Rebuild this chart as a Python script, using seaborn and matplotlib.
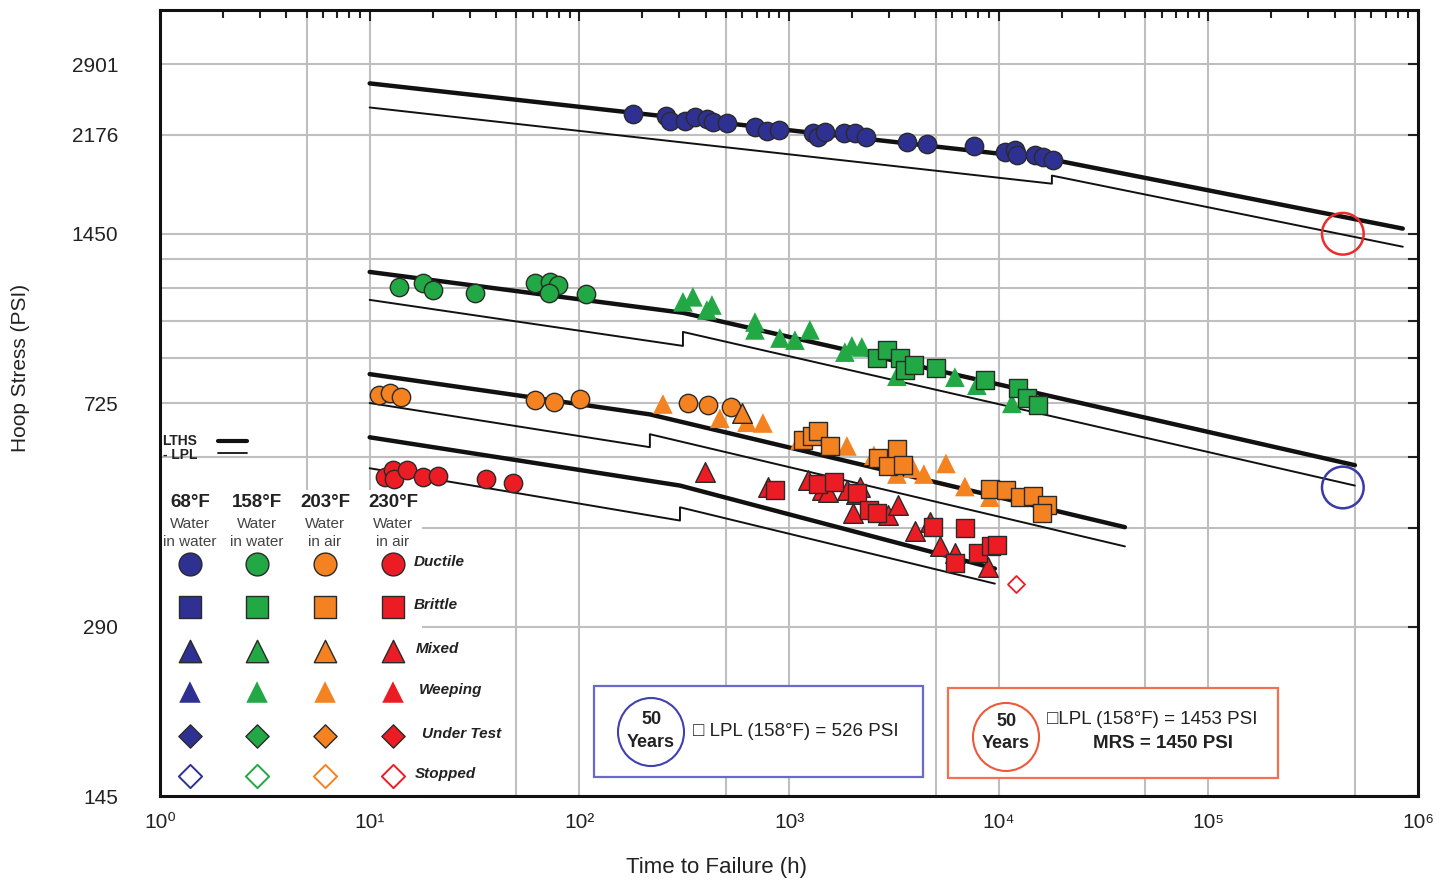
import numpy as np
import pandas as pd
import matplotlib
matplotlib.use("Agg")
import matplotlib.pyplot as plt
import seaborn as sns
from matplotlib.patches import Rectangle, Ellipse
from matplotlib.ticker import FixedLocator, FixedFormatter, LogLocator, NullFormatter

sns.set_theme(style="white")
plt.rcParams['font.family'] = ['Liberation Sans', 'DejaVu Sans']

# ---------------- data (hours, psi) ----------------
# 68F water in water - ductile
b_circ_h = [180, 259, 270, 319, 356, 406, 434, 506, 688, 785, 895, 1300, 1373, 1484, 1827, 2062, 2326,
            3650, 4546, 7616, 10700, 11950, 12210, 14880, 16250, 18140]
b_circ_p = [2363, 2345, 2297, 2297, 2335, 2316, 2287, 2278, 2249, 2213, 2222, 2195, 2151, 2204, 2187, 2195, 2151,
            2115, 2098, 2081, 2030, 2046, 2005, 2005, 1989, 1965]
# 158F
g_circ_h = [13.8, 18.0, 20.0, 31.8, 61.4, 72.4, 79.1, 71.6, 107.5]
g_circ_p = [1167, 1186, 1152, 1138, 1186, 1191, 1176, 1138, 1133]
g_weep_h = [312, 348, 406, 429, 688, 688, 905, 1067, 1258, 1847, 1995, 2226, 3269, 6183, 7870, 11560]
g_weep_p = [1097, 1120, 1061, 1083, 1010, 978, 946, 938, 978, 893, 916, 912, 809, 806, 780, 724]
g_sq_h = [2626, 2931, 3380, 3570, 3940, 5018, 8596, 12350, 13630, 15380]
g_sq_p = [872, 901, 872, 830, 847, 837, 796, 771, 740, 719]
# 203F
o_circ_h = [11.1, 12.5, 14.1, 61.4, 75.6, 100.7, 329.6, 410, 528]
o_circ_p = [749, 755, 743, 734, 728, 737, 724, 719, 713]
o_weep_h = [250.5, 468, 630, 751, 1127, 1889, 2540, 3269, 3898, 4398, 5601, 6899, 9079]
o_weep_p = [722, 681, 670, 668, 623, 608, 585, 542, 555, 542, 566, 515, 493]
o_mix_h = [596]
o_mix_p = [696]
o_sq_h = [1165, 1286, 1373, 1567, 2654, 3269, 2962, 3493, 9079, 10820, 12620, 14560, 16980, 16070]
o_sq_p = [623, 633, 646, 608, 578, 600, 560, 562, 509, 507, 493, 495, 477, 463]
# 230F
r_circ_h = [11.8, 12.9, 13.1, 15.1, 17.96, 21.2, 35.9, 48.2]
r_circ_p = [535, 550, 531, 550, 535, 537, 531, 522]
r_mix_h = [397, 793, 1231, 1435, 1533, 1889, 2084, 2178, 2017, 2962, 3305, 3985, 4698, 5243, 6183, 8881]
r_mix_p = [546, 515, 528, 507, 503, 507, 499, 515, 463, 459, 477, 430, 446, 403, 393, 371]
r_sq_h = [856, 1373, 1637, 2108, 2404, 2626, 4856, 6899, 6183, 7958, 9180, 9803]
r_sq_p = [507, 520, 524, 501, 467, 463, 437, 434, 377, 392, 403, 406]
r_stop_h = [12080]
r_stop_p = [346]

# regression lines: LTHS (thick) and LPL (thin)
lths_68_h = [10, 17940, 846000];         lths_68_p = [2684, 1965, 1481]
lpl_68_h = [10, 17940, 17940, 846000];   lpl_68_p = [2432, 1780, 1840, 1375]
lths_158_h = [10, 312, 500000];          lths_158_p = [1240, 1049, 562]
lpl_158_h = [10, 312, 312, 500000];      lpl_158_p = [1106, 916, 970, 517]
lths_203_h = [10, 217, 40000];           lths_203_p = [816, 692, 436]
lpl_203_h = [10, 217, 217, 40000];       lpl_203_p = [725, 605, 638, 403]
lths_230_h = [10, 302, 9590];            lths_230_p = [630, 517, 368]
lpl_230_h = [10, 302, 302, 9590];        lpl_230_p = [555, 448, 473, 346]

fifty_years_h = [438000, 438000]
fifty_years_p = [1450, 513]

y_major = [145, 290, 725, 1450, 2176, 2901]
y_minor = [435, 580, 870, 1015, 1160, 1305]
x_half_grid = [5, 50, 500, 5000, 50000, 500000]
x_labels = ['10⁰', '10¹', '10²', '10³', '10⁴', '10⁵', '10⁶']

temps = ['68°F', '158°F', '203°F', '230°F']
media = [['Water', 'in water'], ['Water', 'in water'], ['Water', 'in air'], ['Water', 'in air']]
modes = ['Ductile', 'Brittle', 'Mixed', 'Weeping', 'Under Test', 'Stopped']

COL = {'68': '#2E3192', '158': '#22A845', '203': '#F58220', '230': '#EC1C24'}
EDGE = '#2a2a2a'

# ---------------- figure ----------------
fig = plt.figure(figsize=(14.51, 8.80), dpi=100)
ax = fig.add_axes([0.11027, 0.09545, 0.86699, 0.89318])
ax.set_xscale('log')
ax.set_yscale('log')
ax.set_xlim(1, 1e6)
ax.set_ylim(145, 3625)
ax.set_axisbelow(True)

gridc = '#bfbfbf'
ax.yaxis.set_major_locator(FixedLocator(y_major))
ax.yaxis.set_major_formatter(FixedFormatter([str(v) for v in y_major]))
ax.yaxis.set_minor_locator(FixedLocator(y_minor))
ax.yaxis.set_minor_formatter(NullFormatter())
ax.xaxis.set_major_locator(FixedLocator([10 ** k for k in range(7)]))
ax.xaxis.set_major_formatter(FixedFormatter(x_labels))
ax.xaxis.set_minor_locator(LogLocator(base=10, subs=range(2, 10), numticks=20))
ax.xaxis.set_minor_formatter(NullFormatter())
ax.grid(True, axis='y', which='both', color=gridc, lw=1.5)
ax.grid(True, axis='x', which='major', color=gridc, lw=1.5)
for xv in x_half_grid:
    ax.axvline(xv, color=gridc, lw=1.5, zorder=0.4)

ax.tick_params(axis='both', which='both', direction='in', top=True, right=True,
               color='#222222', width=1.5)
ax.tick_params(axis='y', which='both', length=7, pad=30, labelsize=15, labelcolor='#222222')
ax.tick_params(axis='x', which='major', length=8, pad=12, labelsize=15, labelcolor='#222222')
ax.tick_params(axis='x', which='minor', length=6)
for s in ax.spines.values():
    s.set_color('#111111')
    s.set_linewidth(2.2)
    s.set_zorder(6)

# legend panel background (hides grid)
ax.add_patch(Rectangle((0, 0), 0.2085, 0.389, transform=ax.transAxes, facecolor='white',
                       edgecolor='none', zorder=1))

# lines
line_sets = [(lths_68_h, lths_68_p, lpl_68_h, lpl_68_p), (lths_158_h, lths_158_p, lpl_158_h, lpl_158_p),
             (lths_203_h, lths_203_p, lpl_203_h, lpl_203_p), (lths_230_h, lths_230_p, lpl_230_h, lpl_230_p)]
for th, tp, lh, lp in line_sets:
    sns.lineplot(x=th, y=tp, sort=False, estimator=None, color='#111111', lw=3.2, ax=ax, zorder=3)
    sns.lineplot(x=lh, y=lp, sort=False, estimator=None, color='#111111', lw=1.4, ax=ax, zorder=3)

# points
groups = [
    ('68', 'o', b_circ_h, b_circ_p, True, 175),
    ('158', 'o', g_circ_h, g_circ_p, True, 175),
    ('158', '^', g_weep_h, g_weep_p, False, 200),
    ('158', 's', g_sq_h, g_sq_p, True, 150),
    ('203', 'o', o_circ_h, o_circ_p, True, 175),
    ('203', '^', o_weep_h, o_weep_p, False, 200),
    ('203', '^', o_mix_h, o_mix_p, True, 200),
    ('203', 's', o_sq_h, o_sq_p, True, 150),
    ('230', 'o', r_circ_h, r_circ_p, True, 175),
    ('230', '^', r_mix_h, r_mix_p, True, 200),
    ('230', 's', r_sq_h, r_sq_p, True, 150),
]
for key, mk, hh, pp, edged, size in groups:
    df = pd.DataFrame({'hours': hh, 'psi': pp})
    sns.scatterplot(data=df, x='hours', y='psi', marker=mk, s=size, color=COL[key],
                    edgecolor=EDGE if edged else 'none', linewidth=1.0 if edged else 0,
                    ax=ax, zorder=5, legend=False)
sns.scatterplot(x=r_stop_h, y=r_stop_p, marker='D', s=75, facecolor='white',
                edgecolor=COL['230'], linewidth=1.3, ax=ax, zorder=5, legend=False)
# 50-year markers
sns.scatterplot(x=fifty_years_h[:1], y=fifty_years_p[:1], marker='o', s=900, facecolor='none',
                edgecolor='#EE2A2A', linewidth=1.8, ax=ax, zorder=6, legend=False)
sns.scatterplot(x=fifty_years_h[1:], y=fifty_years_p[1:], marker='o', s=900, facecolor='none',
                edgecolor='#3A3AA8', linewidth=1.8, ax=ax, zorder=6, legend=False)

ax.set_xlabel('Time to Failure (h)', fontsize=16, color='#222222')
ax.set_ylabel('Hoop Stress (PSI)', fontsize=15, color='#222222')
ax.xaxis.set_label_coords(0.442, -0.077)
ax.yaxis.set_label_coords(-0.103, 0.545)

T = ax.transAxes
# LTHS / LPL key
ax.text(0.002, 0.4517, 'LTHS', transform=T, fontsize=10, fontweight='bold', va='center', ha='left', color='#222', zorder=7)
ax.text(0.002, 0.4338, '- LPL', transform=T, fontsize=10, fontweight='bold', va='center', ha='left', color='#222', zorder=7)
ax.plot([0.0461, 0.0692], [0.4517, 0.4517], transform=T, color='#111', lw=3.0, zorder=7)
ax.plot([0.0461, 0.0692], [0.4360, 0.4360], transform=T, color='#111', lw=1.3, zorder=7)

col_x = [0.0238, 0.0771, 0.1312, 0.1852]
row_y = [0.2952, 0.2405, 0.1845, 0.1323, 0.0763, 0.0254]
keys = ['68', '158', '203', '230']
for i, (k, t, m) in enumerate(zip(keys, temps, media)):
    cx = col_x[i]
    ax.text(cx, 0.3728, t, transform=T, fontsize=13.5, fontweight='bold', ha='center', va='center', color='#222', zorder=7)
    ax.text(cx, 0.3465, m[0], transform=T, fontsize=11, ha='center', va='center', color='#444', zorder=7)
    ax.text(cx, 0.3235, m[1], transform=T, fontsize=11, ha='center', va='center', color='#444', zorder=7)
    c = COL[k]
    ax.scatter([cx], [row_y[0]], transform=T, marker='o', s=270, color=c, edgecolor=EDGE, lw=1.0, zorder=7)
    ax.scatter([cx], [row_y[1]], transform=T, marker='s', s=250, color=c, edgecolor=EDGE, lw=1.0, zorder=7)
    ax.scatter([cx], [row_y[2]], transform=T, marker='^', s=260, color=c, edgecolor=EDGE, lw=1.0, zorder=7)
    ax.scatter([cx], [row_y[3]], transform=T, marker='^', s=240, color=c, edgecolor='none', zorder=7)
    ax.scatter([cx], [row_y[4]], transform=T, marker='D', s=140, color=c, edgecolor=EDGE, lw=1.0, zorder=7)
    ax.scatter([cx], [row_y[5]], transform=T, marker='D', s=140, facecolor='white', edgecolor=c, lw=1.4, zorder=7)
lab_x = [0.2019, 0.2019, 0.2035, 0.2059, 0.2083, 0.2027]
for lx, ry, md in zip(lab_x, row_y, modes):
    ax.text(lx, ry + 0.002, md, transform=T, fontsize=11, fontweight='bold', fontstyle='italic',
            ha='left', va='center', color='#222', zorder=7)

# 50-year annotation boxes
ax.add_patch(Rectangle((0.345, 0.0242), 0.2615, 0.1158, transform=T, facecolor='white',
                       edgecolor='#6a6acb', lw=1.6, zorder=4))
ax.add_patch(Ellipse((0.3903, 0.0814), 0.0525, 0.0865, transform=T, facecolor='none',
                     edgecolor='#4040b0', lw=1.5, zorder=7))
ax.text(0.3903, 0.0967, '50', transform=T, fontsize=13, fontweight='bold', ha='center', va='center', color='#222', zorder=7)
ax.text(0.3903, 0.0687, 'Years', transform=T, fontsize=13, fontweight='bold', ha='center', va='center', color='#222', zorder=7)
ax.text(0.4237, 0.0827, '□ LPL (158°F) = 526 PSI', transform=T, fontsize=13.5, ha='left', va='center', color='#222', zorder=7)

ax.add_patch(Rectangle((0.6264, 0.0229), 0.2623, 0.1145, transform=T, facecolor='white',
                       edgecolor='#f4704f', lw=1.6, zorder=4))
ax.add_patch(Ellipse((0.6725, 0.0751), 0.0525, 0.0865, transform=T, facecolor='none',
                     edgecolor='#f0583a', lw=1.5, zorder=7))
ax.text(0.6725, 0.0954, '50', transform=T, fontsize=13, fontweight='bold', ha='center', va='center', color='#222', zorder=7)
ax.text(0.6725, 0.0662, 'Years', transform=T, fontsize=13, fontweight='bold', ha='center', va='center', color='#222', zorder=7)
ax.text(0.7051, 0.0967, '□LPL (158°F) = 1453 PSI', transform=T, fontsize=13.5, ha='left', va='center', color='#222', zorder=7)
ax.text(0.7973, 0.0662, 'MRS = 1450 PSI', transform=T, fontsize=13.5, fontweight='bold', ha='center', va='center', color='#222', zorder=7)

fig.savefig('out.png', dpi=100, facecolor='white')
